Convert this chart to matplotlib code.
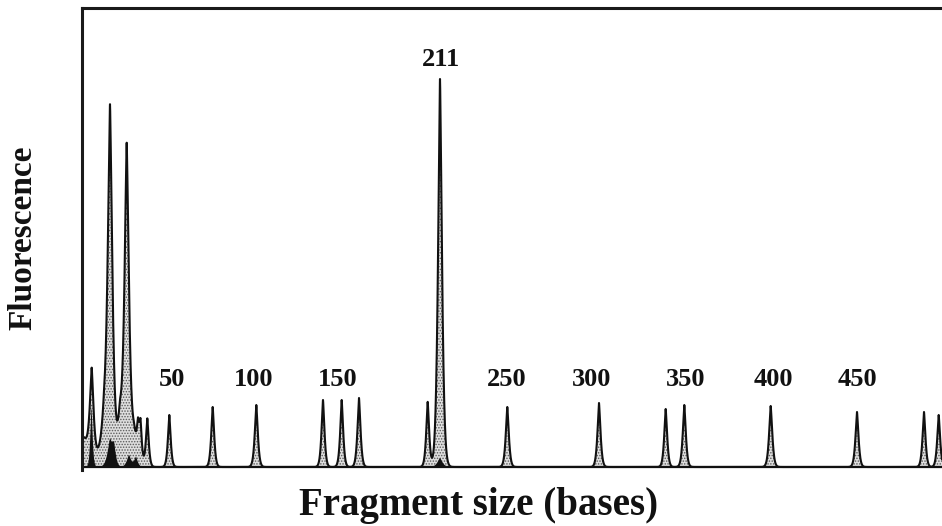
import numpy as np
import matplotlib
matplotlib.use("Agg")
import matplotlib.pyplot as plt

# ---- data (scan position, relative fluorescence) ----
peak_pos = [1, 9.7, 22, 28, 38, 44.7, 52, 56, 58.5, 65.3, 87.3, 130.7, 174.3,
            241, 259.7, 277, 345.7, 358, 425.3, 517, 583.7, 602.3, 688.7,
            775, 842, 856.7]
peak_height = [30, 85, 40, 350, 45, 313, 30, 27, 36, 48, 52, 60, 62,
               67, 67, 69, 65, 388, 60, 64, 58, 62, 61,
               55, 55, 52]
peak_width = [10, 2.6, 5, 3.3, 4, 3.2, 5, 1.8, 1.8, 2.0, 2.0, 2.1, 2.2,
              2.1, 2.1, 2.2, 2.1, 2.8, 2.2, 2.2, 2.1, 2.2, 2.3,
              2.2, 2.1, 2.1]

# second (dark) dye trace, small overlapping peaks
dark_pos = [9.5, 28, 32, 47, 54, 358]
dark_height = [60, 26, 18, 12, 10, 9]
dark_width = [1.6, 3.5, 2.5, 3.0, 2.5, 3.5]

size_labels = ["50", "100", "150", "211", "250", "300", "350", "400", "450"]
size_label_pos = [90, 172, 256, 359, 425, 510, 604, 691, 775]

x = np.arange(0, 860.05, 0.1)


def trace(pos, height, width):
    y = np.zeros_like(x)
    for p, h, w in zip(pos, height, width):
        y += h * np.exp(-(np.abs(x - p) / w) ** 1.4)
    return y


main = trace(peak_pos, peak_height, peak_width)
dark = trace(dark_pos, dark_height, dark_width)

W, H = 942, 526
fig = plt.figure(figsize=(W / 100, H / 100), dpi=100)
ax = fig.add_axes([82 / W, 1 - 470 / H, 1 - 82 / W, (470 - 8) / H])

serif = ["Liberation Serif", "DejaVu Serif"]

plt.rcParams["hatch.linewidth"] = 0.7
ax.fill_between(x, 0, main, facecolor="#dedede", edgecolor="#5a5a5a",
                hatch="......", linewidth=0)
ax.plot(x, main, color="#111111", lw=1.5)
ax.fill_between(x, 0, dark, facecolor="#111111", linewidth=0)
ax.plot(x, main * 0, color="#111111", lw=1.6)

ax.set_xlim(0, 860)
ax.set_ylim(-3, 459)

for s in ["right", "bottom"]:
    ax.spines[s].set_visible(False)
for s in ["left", "top"]:
    ax.spines[s].set_linewidth(2.2)
    ax.spines[s].set_color("#1a1a1a")
ax.set_xticks([])
ax.set_yticks([])

for lab, p in zip(size_labels, size_label_pos):
    yb = 401 if lab == "211" else 81
    ax.text(p, yb, lab, ha="center", va="baseline", fontsize=19,
            fontweight="bold", family=serif, color="#111111")

fig.text(23 / W, 1 - 238 / H, "Fluorescence", rotation=90, ha="center",
         va="center", fontsize=24, fontweight="bold", family=serif,
         color="#111111")
fig.text(479 / W, 1 - 515 / H, "Fragment size (bases)", ha="center",
         va="baseline", fontsize=28, fontweight="bold", family=serif,
         color="#111111")

fig.savefig("out.png", dpi=100)
